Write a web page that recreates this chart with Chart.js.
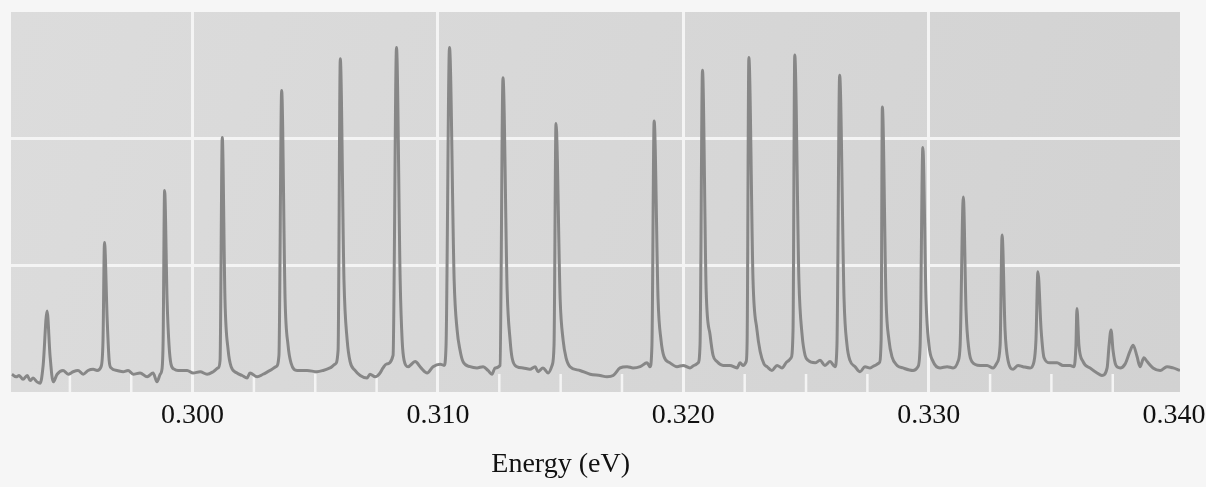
<!DOCTYPE html>
<html>
<head>
<meta charset="utf-8">
<script src="https://cdn.jsdelivr.net/npm/chart.js@4.4.0/dist/chart.umd.min.js"></script>
<style>
  html, body { margin: 0; padding: 0; background: #f6f6f6; }
  #wrap { width: 1206px; height: 487px; position: relative; }
</style>
</head>
<body>
<div id="wrap"><canvas id="spectrum"></canvas></div>
<script>
const energy = [
  0.29264, 0.29281, 0.29293, 0.29309, 0.29326, 0.29338, 0.29350, 0.29366, 0.29379, 0.29391,
  0.29407, 0.29419, 0.29432, 0.29448, 0.29472, 0.29493, 0.29513, 0.29533, 0.29554, 0.29574,
  0.29595, 0.29611, 0.29627,
  0.29635, 0.29641, 0.29652, 0.29660, 0.29668, 0.29692, 0.29717, 0.29737, 0.29758, 0.29786,
  0.29815, 0.29839, 0.29855, 0.29868, 0.29876,
  0.29880, 0.29886, 0.29896, 0.29904, 0.29912, 0.29925, 0.29941, 0.29978, 0.30002, 0.30031,
  0.30059, 0.30084, 0.30104, 0.30112,
  0.30121, 0.30132, 0.30145, 0.30157, 0.30181, 0.30202, 0.30222, 0.30234, 0.30263, 0.30287,
  0.30316, 0.30340, 0.30352,
  0.30363, 0.30377, 0.30389, 0.30401, 0.30426, 0.30467, 0.30507, 0.30532, 0.30560, 0.30581, 0.30593,
  0.30602, 0.30617, 0.30630, 0.30642, 0.30662, 0.30683, 0.30711, 0.30723, 0.30744, 0.30764,
  0.30776, 0.30789, 0.30817,
  0.30831, 0.30846, 0.30854, 0.30862, 0.30878, 0.30907, 0.30931, 0.30956, 0.30980, 0.31009, 0.31025, 0.31033,
  0.31047, 0.31066, 0.31078, 0.31090, 0.31102, 0.31131, 0.31159, 0.31184, 0.31204, 0.31220, 0.31233, 0.31253,
  0.31265, 0.31282, 0.31294, 0.31302, 0.31322, 0.31347, 0.31375, 0.31396, 0.31408, 0.31428, 0.31449, 0.31465, 0.31473,
  0.31481, 0.31498, 0.31510, 0.31522, 0.31538, 0.31579, 0.31620, 0.31661, 0.31689, 0.31714, 0.31742, 0.31771,
  0.31795, 0.31824, 0.31852, 0.31864, 0.31872,
  0.31881, 0.31897, 0.31909, 0.31921, 0.31946, 0.31974, 0.31999, 0.32027, 0.32044, 0.32060, 0.32068,
  0.32078, 0.32093, 0.32109, 0.32121, 0.32137, 0.32162, 0.32190, 0.32219, 0.32231, 0.32243, 0.32256, 0.32260,
  0.32267, 0.32284, 0.32300, 0.32313, 0.32329, 0.32341, 0.32361, 0.32382, 0.32402, 0.32423, 0.32439, 0.32447,
  0.32454, 0.32471, 0.32484, 0.32496, 0.32508, 0.32537, 0.32557, 0.32577, 0.32598, 0.32618, 0.32626,
  0.32637, 0.32655, 0.32667, 0.32679, 0.32700, 0.32720, 0.32740, 0.32761, 0.32781, 0.32798, 0.32806,
  0.32811, 0.32826, 0.32838, 0.32850, 0.32871, 0.32895, 0.32936, 0.32956, 0.32965,
  0.32976, 0.32989, 0.33001, 0.33018, 0.33046, 0.33075, 0.33099, 0.33119, 0.33128,
  0.33141, 0.33152, 0.33164, 0.33176, 0.33209, 0.33238, 0.33262, 0.33278, 0.33291,
  0.33299, 0.33311, 0.33323, 0.33344, 0.33364, 0.33384, 0.33413, 0.33429, 0.33437,
  0.33445, 0.33458, 0.33470, 0.33494, 0.33523, 0.33547, 0.33576, 0.33592, 0.33600,
  0.33604, 0.33612, 0.33629, 0.33657, 0.33686, 0.33706, 0.33727, 0.33735,
  0.33743, 0.33751, 0.33763, 0.33780, 0.33800, 0.33820, 0.33833, 0.33849, 0.33861, 0.33877,
  0.33890, 0.33914, 0.33943, 0.33971, 0.33996, 0.34024
];
const signal = [
  0.14, 0.12, 0.13, 0.10, 0.13, 0.09, 0.11, 0.08, 0.07, 0.21,
  0.64, 0.29, 0.08, 0.14, 0.17, 0.14, 0.16, 0.17, 0.14, 0.17,
  0.18, 0.17, 0.20,
  0.41, 1.18, 0.57, 0.25, 0.19, 0.17, 0.16, 0.17, 0.14, 0.15,
  0.12, 0.15, 0.08, 0.14, 0.19,
  0.41, 1.59, 0.73, 0.37, 0.22, 0.18, 0.17, 0.17, 0.15, 0.16,
  0.14, 0.16, 0.19, 0.25,
  2.01, 0.73, 0.33, 0.20, 0.15, 0.13, 0.11, 0.15, 0.12, 0.14,
  0.17, 0.20, 0.29,
  2.38, 0.73, 0.37, 0.23, 0.17, 0.17, 0.16, 0.17, 0.19, 0.22, 0.33,
  2.63, 0.88, 0.41, 0.24, 0.17, 0.13, 0.11, 0.14, 0.12, 0.15,
  0.19, 0.22, 0.29,
  2.72, 0.88, 0.41, 0.25, 0.20, 0.24, 0.19, 0.15, 0.20, 0.22, 0.21, 0.37,
  2.72, 0.88, 0.49, 0.33, 0.24, 0.20, 0.19, 0.20, 0.17, 0.14, 0.19, 0.21,
  2.48, 0.80, 0.41, 0.27, 0.20, 0.19, 0.18, 0.20, 0.16, 0.19, 0.15, 0.21, 0.37,
  2.12, 0.73, 0.41, 0.27, 0.20, 0.17, 0.14, 0.13, 0.12, 0.13, 0.19, 0.20,
  0.19, 0.20, 0.23, 0.20, 0.37,
  2.14, 0.73, 0.41, 0.28, 0.23, 0.20, 0.21, 0.19, 0.21, 0.23, 0.37,
  2.54, 0.80, 0.45, 0.29, 0.24, 0.21, 0.21, 0.19, 0.23, 0.21, 0.24, 0.41,
  2.64, 0.88, 0.49, 0.32, 0.22, 0.20, 0.17, 0.21, 0.19, 0.24, 0.27, 0.49,
  2.66, 0.88, 0.45, 0.29, 0.25, 0.23, 0.25, 0.21, 0.24, 0.20, 0.37,
  2.50, 0.73, 0.37, 0.25, 0.20, 0.16, 0.20, 0.19, 0.21, 0.23, 0.41,
  2.25, 0.73, 0.41, 0.28, 0.21, 0.19, 0.17, 0.20, 0.37,
  1.93, 0.73, 0.37, 0.24, 0.19, 0.20, 0.19, 0.24, 0.37,
  1.54, 0.65, 0.33, 0.24, 0.21, 0.21, 0.19, 0.23, 0.37,
  1.24, 0.49, 0.25, 0.18, 0.21, 0.20, 0.19, 0.24, 0.41,
  0.95, 0.49, 0.27, 0.23, 0.23, 0.21, 0.21, 0.20, 0.37,
  0.66, 0.37, 0.24, 0.19, 0.15, 0.13, 0.19, 0.37,
  0.49, 0.33, 0.21, 0.19, 0.22, 0.32, 0.37, 0.28, 0.20, 0.27,
  0.24, 0.19, 0.17, 0.20, 0.19, 0.17
];
const majorTicks = [0.300, 0.310, 0.320, 0.330, 0.340];
const minorTicks = [0.295, 0.2975, 0.3025, 0.305, 0.3075, 0.3125, 0.315, 0.3175,
                    0.3225, 0.325, 0.3275, 0.3325, 0.335, 0.3375];
const gridLevels = [1, 2];
const axisTitle = 'Energy (eV)';

const paper = {
  id: 'paper',
  beforeDraw(chart) {
    const { ctx, chartArea: a } = chart;
    const g = ctx.createLinearGradient(a.left, a.top, a.right, a.bottom);
    g.addColorStop(0, '#dcdcdc');
    g.addColorStop(1, '#d2d2d2');
    ctx.save();
    ctx.fillStyle = g;
    ctx.fillRect(a.left, a.top, a.right - a.left, a.bottom - a.top);
    ctx.restore();
  }
};

const minorMarks = {
  id: 'minorMarks',
  beforeDatasetsDraw(chart) {
    const { ctx, chartArea: a } = chart;
    const x = chart.scales.x;
    ctx.save();
    ctx.strokeStyle = '#f4f4f4';
    ctx.lineWidth = 2.5;
    minorTicks.forEach(function (v) {
      const px = x.getPixelForValue(v);
      ctx.beginPath();
      ctx.moveTo(px, a.bottom);
      ctx.lineTo(px, a.bottom - 18);
      ctx.stroke();
    });
    ctx.restore();
  }
};

const xTitle = {
  id: 'xTitle',
  afterDraw(chart) {
    const ctx = chart.ctx;
    const x = chart.scales.x;
    ctx.save();
    ctx.font = '28px "Liberation Serif"';
    ctx.fillStyle = '#111';
    ctx.textAlign = 'center';
    ctx.textBaseline = 'alphabetic';
    ctx.fillText(axisTitle, x.getPixelForValue(0.315), 472);
    ctx.restore();
  }
};

const ctx = document.getElementById('spectrum').getContext('2d');
new Chart(ctx, {
  type: 'line',
  data: {
    datasets: [{
      data: energy.map((e, i) => ({ x: e, y: signal[i] })),
      borderColor: '#878787',
      borderWidth: 3,
      pointRadius: 0,
      cubicInterpolationMode: 'monotone',
      fill: false
    }]
  },
  options: {
    responsive: true,
    maintainAspectRatio: false,
    animation: false,
    layout: { padding: { left: 11, right: 26, top: 12, bottom: 0 } },
    plugins: { legend: { display: false }, tooltip: { enabled: false } },
    scales: {
      x: {
        type: 'linear',
        min: 0.29260,
        max: 0.34024,
        afterBuildTicks: s => { s.ticks = majorTicks.map(v => ({ value: v })); },
        afterFit: s => { s.height = 95; s.paddingLeft = 0; s.paddingRight = 0; },
        grid: {
          color: c => (c.tick && c.tick.value < 0.335) ? '#f4f4f4' : 'rgba(0,0,0,0)',
          lineWidth: 3,
          drawTicks: false
        },
        border: { display: false },
        ticks: {
          autoSkip: false,
          maxRotation: 0,
          padding: 7,
          color: '#111',
          font: { family: 'Liberation Serif', size: 28 },
          callback: v => Number(v).toFixed(3)
        }
      },
      y: {
        min: 0,
        max: 3,
        afterBuildTicks: s => { s.ticks = gridLevels.map(v => ({ value: v })); },
        afterFit: s => { s.width = 0; },
        grid: { color: '#f4f4f4', lineWidth: 3, drawTicks: false },
        border: { display: false },
        ticks: { display: false }
      }
    }
  },
  plugins: [paper, minorMarks, xTitle]
});
</script>
</body>
</html>
